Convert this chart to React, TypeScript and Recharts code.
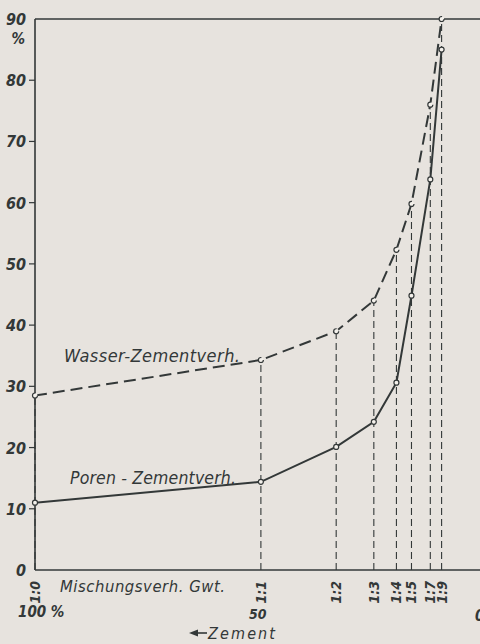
import React from 'react';
import { ComposedChart, Line, XAxis, YAxis, ReferenceLine } from 'recharts';

// cement share in % for each mixing ratio (1 : n by weight)
const ratios = ['1:0', '1:1', '1:2', '1:3', '1:4', '1:5', '1:7', '1:9'];
const cementPct = [100, 50, 100 / 3, 25, 20, 100 / 6, 12.5, 10];
// water-cement ratio (%) and pore-cement ratio (%)
const wasser = [28.5, 34.3, 39, 44, 52.3, 59.8, 76, 90];
const poren = [11, 14.4, 20.1, 24.2, 30.6, 44.8, 63.8, 85];
const yTicks = [0, 10, 20, 30, 40, 50, 60, 70, 80, 90];

const data = cementPct.map((c, i) => ({ c, ratio: ratios[i], wasser: wasser[i], poren: poren[i] }));

const INK = '#333838';
const FONT = '"DejaVu Sans Condensed", "DejaVu Sans", sans-serif';

const YTick = (props: any) => {
  const { x, y, payload } = props;
  const v = payload.value;
  return (
    <g>
      <text x={x - 1} y={y + 6} textAnchor="end" fontSize={16} fontWeight={600} fontStyle="italic" fill={INK} fontFamily={FONT}>
        {v}
      </text>
      {v === 90 && (
        <text x={x - 2} y={y + 25} textAnchor="end" fontSize={15} fontWeight={600} fontStyle="italic" fill={INK} fontFamily={FONT}>
          %
        </text>
      )}
      {v !== 0 && v !== 90 && <line x1={x + 2} x2={x + 8} y1={y} y2={y} stroke={INK} strokeWidth={1.2} />}
    </g>
  );
};

const XTick = (props: any) => {
  const { x, y, index } = props;
  return (
    <text
      x={0}
      y={0}
      transform={`translate(${x + 5},${y + 3}) rotate(-90)`}
      textAnchor="end"
      fontSize={14}
      fontWeight={600}
      fontStyle="italic"
      fill={INK}
      fontFamily={FONT}
    >
      {ratios[index]}
    </text>
  );
};

const dot = { r: 2.5, fill: '#f4f1ec', stroke: INK, strokeWidth: 1.2 };

export default function App() {
  return (
    <div style={{ position: 'absolute', left: 0, top: 0, width: 480, height: 644, background: '#e7e3de', overflow: 'hidden' }}>
      <ComposedChart width={480} height={644} data={data} margin={{ top: 19, right: 0, left: 0, bottom: 0 }}>
        <XAxis
          dataKey="c"
          type="number"
          domain={[1.5, 100]}
          reversed
          ticks={cementPct}
          interval={0}
          height={74}
          tickLine={false}
          tick={<XTick />}
          axisLine={{ stroke: INK, strokeWidth: 1.6 }}
        />
        <YAxis
          type="number"
          domain={[0, 90]}
          ticks={yTicks}
          interval={0}
          width={35}
          tickLine={false}
          tick={<YTick />}
          axisLine={{ stroke: INK, strokeWidth: 1.6 }}
        />
        <ReferenceLine y={90} stroke={INK} strokeWidth={1.6} />
        {data.map((d, i) => (
          <ReferenceLine
            key={`drop-${i}`}
            segment={[{ x: d.c, y: 0 }, { x: d.c, y: d.wasser }]}
            stroke={INK}
            strokeWidth={1.1}
            strokeDasharray="7 4"
          />
        ))}
        <Line
          dataKey="wasser"
          type="linear"
          stroke={INK}
          strokeWidth={2}
          strokeDasharray="12 6"
          dot={dot}
          isAnimationActive={false}
        />
        <Line dataKey="poren" type="linear" stroke={INK} strokeWidth={2} dot={dot} isAnimationActive={false} />
      </ComposedChart>
      <svg width={480} height={644} style={{ position: 'absolute', left: 0, top: 0, pointerEvents: 'none' }}>
        <g fontFamily={FONT} fontStyle="italic" fill={INK}>
          <text x={64} y={362} fontSize={18} textLength={176}>Wasser-Zementverh.</text>
          <text x={70} y={484} fontSize={17.5} textLength={166}>Poren - Zementverh.</text>
          <text x={60} y={592} fontSize={16.5} textLength={165}>Mischungsverh. Gwt.</text>
          <text x={18} y={617} fontSize={15} fontWeight={600}>100 %</text>
          <text x={249} y={619} fontSize={14} fontWeight={600}>50</text>
          <text x={208} y={639} fontSize={16} textLength={67}>Zement</text>
          <text x={475} y={621} fontSize={15} fontWeight={600}>0</text>
        </g>
        <line x1={192} x2={207} y1={633} y2={633} stroke={INK} strokeWidth={1.6} />
        <path d="M189 633 L198 629.5 L198 636.5 Z" fill={INK} />
      </svg>
    </div>
  );
}
